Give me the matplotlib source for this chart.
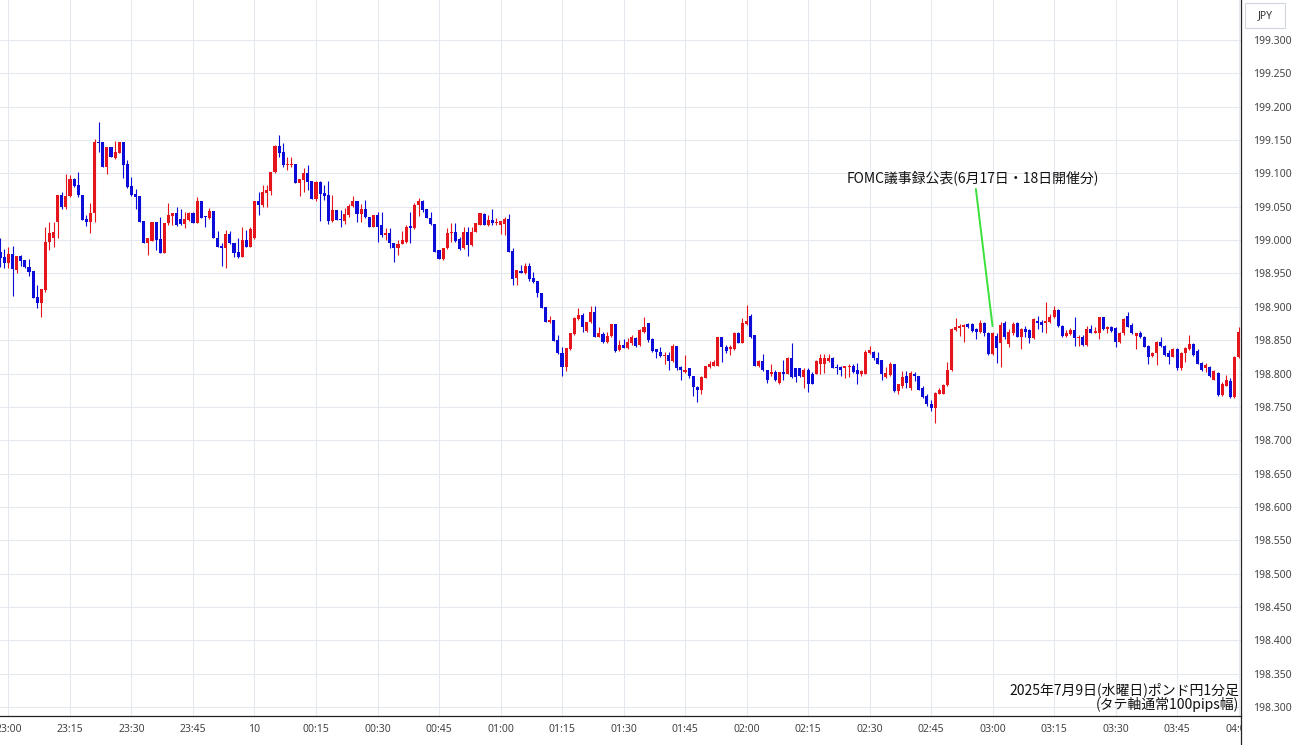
import numpy as np
import matplotlib
matplotlib.use("Agg")
import matplotlib.pyplot as plt
from matplotlib.transforms import Bbox
from matplotlib.lines import Line2D
from matplotlib.patches import Rectangle

# GBP/JPY 1-minute candles, first candle at 22:58 (minutes counted from 23:00)
first_minute = -2

opens = [
    198.982, 198.975, 198.966, 198.979, 198.955, 198.976, 198.970, 198.959, 198.954, 198.914,
    198.905, 198.925, 198.997, 199.003, 199.027, 199.068, 199.049, 199.066, 199.091, 199.082,
    199.067, 199.031, 199.027, 199.040, 199.147, 199.147, 199.109, 199.139, 199.123, 199.130,
    199.147, 199.114, 199.081, 199.069, 199.066, 199.029, 198.996, 198.999, 199.027, 199.001,
    198.981, 199.025, 199.036, 199.040, 199.031, 199.024, 199.030, 199.041, 199.026, 199.059,
    199.036, 199.033, 199.044, 199.003, 198.991, 198.988, 199.009, 198.996, 198.982, 198.975,
    199.000, 198.990, 199.003, 199.059, 199.053, 199.071, 199.074, 199.102, 199.141, 199.132,
    199.112, 199.113, 199.114, 199.086, 199.090, 199.101, 199.088, 199.061, 199.087, 199.071,
    199.068, 199.029, 199.045, 199.031, 199.029, 199.038, 199.051, 199.059, 199.039, 199.046,
    199.034, 199.020, 199.038, 199.023, 199.008, 199.011, 198.996, 198.988, 198.994, 198.997,
    199.021, 199.018, 199.053, 199.059, 199.046, 199.033, 199.024, 198.985, 198.971, 198.988,
    199.010, 199.012, 199.001, 198.988, 199.012, 198.992, 199.012, 199.023, 199.039, 199.023,
    199.030, 199.025, 199.023, 199.024, 199.031, 198.984, 198.943, 198.954, 198.950, 198.961,
    198.943, 198.939, 198.920, 198.899, 198.877, 198.880, 198.850, 198.831, 198.810, 198.837,
    198.859, 198.881, 198.888, 198.863, 198.877, 198.892, 198.855, 198.859, 198.847, 198.856,
    198.874, 198.835, 198.843, 198.838, 198.845, 198.853, 198.843, 198.862, 198.876, 198.851,
    198.836, 198.832, 198.826, 198.828, 198.819, 198.841, 198.810, 198.802, 198.808, 198.797,
    198.780, 198.776, 198.794, 198.810, 198.812, 198.812, 198.854, 198.840, 198.836, 198.836,
    198.861, 198.846, 198.874, 198.886, 198.857, 198.811, 198.819, 198.806, 198.799, 198.802,
    198.786, 198.802, 198.800, 198.823, 198.808, 198.808, 198.795, 198.806, 198.800, 198.800,
    198.815, 198.815, 198.819, 198.823, 198.810, 198.810, 198.808, 198.810, 198.812, 198.805,
    198.800, 198.800, 198.830, 198.832, 198.823, 198.820, 198.795, 198.798, 198.814, 198.774,
    198.781, 198.796, 198.778, 198.800, 198.796, 198.779, 198.766, 198.755, 198.749, 198.770,
    198.770, 198.783, 198.805, 198.865, 198.868, 198.870, 198.874, 198.874, 198.866, 198.862,
    198.876, 198.861, 198.829, 198.856, 198.845, 198.876, 198.844, 198.860, 198.876, 198.855,
    198.866, 198.865, 198.853, 198.879, 198.877, 198.875, 198.877, 198.884, 198.895, 198.871,
    198.856, 198.859, 198.865, 198.853, 198.855, 198.843, 198.866, 198.861, 198.861, 198.884,
    198.866, 198.870, 198.868, 198.847, 198.860, 198.886, 198.873, 198.856, 198.861, 198.855,
    198.841, 198.826, 198.830, 198.847, 198.841, 198.831, 198.825, 198.836, 198.808, 198.830,
    198.836, 198.844, 198.834, 198.816, 198.808, 198.810, 198.791, 198.801, 198.768, 198.782,
    198.789, 198.765, 198.824,
]

highs = [
    199.003, 198.986, 198.989, 198.991, 198.976, 198.978, 198.970, 198.971, 198.954, 198.933,
    198.927, 199.020, 199.027, 199.027, 199.068, 199.072, 199.099, 199.098, 199.093, 199.102,
    199.068, 199.037, 199.055, 199.151, 199.177, 199.147, 199.139, 199.139, 199.149, 199.147,
    199.147, 199.120, 199.095, 199.076, 199.066, 199.029, 199.003, 199.027, 199.027, 199.034,
    199.026, 199.055, 199.040, 199.050, 199.046, 199.042, 199.042, 199.042, 199.064, 199.059,
    199.036, 199.048, 199.044, 199.014, 198.995, 199.015, 199.014, 198.996, 199.003, 199.019,
    199.015, 199.019, 199.059, 199.072, 199.083, 199.083, 199.102, 199.143, 199.158, 199.146,
    199.124, 199.124, 199.114, 199.092, 199.108, 199.112, 199.088, 199.089, 199.089, 199.083,
    199.089, 199.068, 199.045, 199.045, 199.048, 199.054, 199.066, 199.059, 199.054, 199.060,
    199.034, 199.038, 199.042, 199.042, 199.018, 199.018, 198.996, 199.000, 199.014, 199.023,
    199.042, 199.055, 199.063, 199.060, 199.046, 199.042, 199.024, 198.985, 198.988, 199.018,
    199.025, 199.025, 199.004, 199.020, 199.020, 199.020, 199.025, 199.040, 199.040, 199.038,
    199.046, 199.033, 199.029, 199.035, 199.039, 198.988, 198.955, 198.963, 198.966, 198.965,
    198.952, 198.939, 198.920, 198.899, 198.886, 198.880, 198.857, 198.840, 198.838, 198.861,
    198.885, 198.898, 198.890, 198.877, 198.901, 198.901, 198.870, 198.862, 198.862, 198.874,
    198.874, 198.850, 198.851, 198.853, 198.857, 198.855, 198.866, 198.884, 198.876, 198.853,
    198.836, 198.839, 198.832, 198.832, 198.844, 198.841, 198.811, 198.828, 198.809, 198.797,
    198.781, 198.797, 198.812, 198.819, 198.820, 198.855, 198.855, 198.843, 198.843, 198.862,
    198.862, 198.883, 198.902, 198.889, 198.858, 198.820, 198.829, 198.806, 198.815, 198.806,
    198.803, 198.821, 198.824, 198.846, 198.809, 198.809, 198.808, 198.808, 198.802, 198.821,
    198.829, 198.829, 198.829, 198.824, 198.814, 198.812, 198.812, 198.814, 198.815, 198.816,
    198.806, 198.835, 198.841, 198.834, 198.832, 198.821, 198.810, 198.817, 198.815, 198.785,
    198.804, 198.804, 198.804, 198.802, 198.796, 198.781, 198.770, 198.761, 198.772, 198.778,
    198.784, 198.817, 198.868, 198.883, 198.874, 198.874, 198.875, 198.875, 198.868, 198.880,
    198.877, 198.862, 198.862, 198.860, 198.877, 198.879, 198.866, 198.877, 198.877, 198.868,
    198.871, 198.866, 198.883, 198.886, 198.880, 198.907, 198.889, 198.901, 198.896, 198.873,
    198.865, 198.868, 198.884, 198.857, 198.857, 198.871, 198.872, 198.870, 198.885, 198.885,
    198.871, 198.871, 198.869, 198.862, 198.883, 198.892, 198.875, 198.861, 198.864, 198.856,
    198.843, 198.832, 198.849, 198.854, 198.843, 198.835, 198.838, 198.838, 198.832, 198.840,
    198.857, 198.845, 198.836, 198.817, 198.816, 198.811, 198.805, 198.802, 198.787, 198.798,
    198.794, 198.826, 198.869,
]

lows = [
    198.960, 198.958, 198.958, 198.916, 198.951, 198.961, 198.958, 198.946, 198.913, 198.898,
    198.884, 198.922, 198.985, 198.990, 199.003, 199.047, 199.047, 199.064, 199.080, 199.065,
    199.030, 199.021, 199.010, 199.027, 199.132, 199.109, 199.099, 199.125, 199.121, 199.130,
    199.093, 199.078, 199.066, 199.047, 199.027, 198.995, 198.978, 198.999, 198.985, 198.981,
    198.981, 199.023, 199.023, 199.021, 199.023, 199.018, 199.028, 199.026, 199.025, 199.033,
    199.019, 199.031, 199.003, 198.989, 198.961, 198.958, 198.994, 198.975, 198.973, 198.975,
    198.989, 198.990, 199.002, 199.038, 199.049, 199.049, 199.068, 199.100, 199.124, 199.109,
    199.105, 199.110, 199.086, 199.066, 199.072, 199.075, 199.061, 199.059, 199.029, 199.060,
    199.024, 199.027, 199.030, 199.020, 199.024, 199.035, 199.049, 199.027, 199.027, 199.033,
    199.020, 199.020, 198.997, 199.005, 199.000, 198.988, 198.967, 198.978, 198.994, 198.996,
    198.996, 199.016, 199.036, 199.042, 199.033, 199.023, 198.982, 198.971, 198.970, 198.986,
    198.997, 198.997, 198.985, 198.986, 198.976, 198.991, 199.012, 199.023, 199.023, 199.021,
    199.023, 199.023, 199.009, 199.008, 198.982, 198.933, 198.933, 198.950, 198.949, 198.939,
    198.936, 198.915, 198.898, 198.877, 198.876, 198.849, 198.829, 198.796, 198.804, 198.835,
    198.857, 198.880, 198.862, 198.862, 198.876, 198.854, 198.855, 198.846, 198.845, 198.855,
    198.832, 198.834, 198.838, 198.837, 198.843, 198.839, 198.841, 198.861, 198.847, 198.832,
    198.823, 198.825, 198.815, 198.805, 198.817, 198.805, 198.791, 198.801, 198.794, 198.766,
    198.757, 198.769, 198.793, 198.809, 198.811, 198.811, 198.817, 198.830, 198.827, 198.835,
    198.845, 198.845, 198.872, 198.853, 198.811, 198.810, 198.804, 198.786, 198.797, 198.789,
    198.784, 198.790, 198.799, 198.794, 198.787, 198.795, 198.778, 198.772, 198.784, 198.799,
    198.800, 198.801, 198.817, 198.808, 198.800, 198.797, 198.793, 198.795, 198.801, 198.785,
    198.797, 198.799, 198.829, 198.820, 198.815, 198.790, 198.794, 198.796, 198.772, 198.769,
    198.779, 198.779, 198.776, 198.789, 198.776, 198.764, 198.751, 198.744, 198.726, 198.769,
    198.769, 198.781, 198.804, 198.864, 198.856, 198.847, 198.868, 198.862, 198.851, 198.861,
    198.856, 198.827, 198.827, 198.816, 198.810, 198.851, 198.839, 198.857, 198.854, 198.836,
    198.855, 198.846, 198.851, 198.866, 198.862, 198.861, 198.875, 198.883, 198.870, 198.855,
    198.855, 198.857, 198.841, 198.841, 198.841, 198.841, 198.860, 198.860, 198.851, 198.865,
    198.860, 198.862, 198.839, 198.845, 198.858, 198.869, 198.859, 198.836, 198.853, 198.839,
    198.814, 198.824, 198.813, 198.840, 198.826, 198.815, 198.824, 198.806, 198.806, 198.817,
    198.835, 198.826, 198.814, 198.804, 198.802, 198.795, 198.790, 198.766, 198.766, 198.781,
    198.764, 198.764, 198.823,
]

closes = [
    198.973, 198.966, 198.979, 198.956, 198.976, 198.969, 198.959, 198.952, 198.913, 198.905,
    198.927, 198.997, 199.011, 199.012, 199.068, 199.049, 199.066, 199.092, 199.081, 199.067,
    199.030, 199.027, 199.040, 199.147, 199.145, 199.109, 199.139, 199.125, 199.132, 199.147,
    199.112, 199.080, 199.068, 199.064, 199.027, 198.995, 199.003, 199.027, 199.000, 198.981,
    199.025, 199.038, 199.040, 199.023, 199.024, 199.031, 199.041, 199.026, 199.059, 199.033,
    199.034, 199.044, 199.003, 198.989, 198.988, 199.009, 198.995, 198.981, 198.975, 199.000,
    198.990, 199.017, 199.059, 199.053, 199.072, 199.075, 199.102, 199.141, 199.130, 199.112,
    199.114, 199.114, 199.086, 199.092, 199.101, 199.087, 199.061, 199.087, 199.069, 199.066,
    199.029, 199.045, 199.030, 199.030, 199.039, 199.051, 199.059, 199.039, 199.046, 199.034,
    199.020, 199.038, 199.020, 199.008, 199.010, 198.995, 198.988, 198.994, 199.000, 199.020,
    199.018, 199.053, 199.059, 199.045, 199.033, 199.024, 198.982, 198.971, 198.988, 199.011,
    199.012, 198.999, 198.986, 199.012, 198.992, 199.012, 199.025, 199.040, 199.023, 199.030,
    199.025, 199.027, 199.029, 199.031, 198.982, 198.942, 198.955, 198.950, 198.961, 198.941,
    198.937, 198.920, 198.898, 198.877, 198.880, 198.849, 198.830, 198.810, 198.838, 198.860,
    198.883, 198.888, 198.870, 198.877, 198.892, 198.855, 198.860, 198.847, 198.856, 198.874,
    198.834, 198.843, 198.838, 198.847, 198.855, 198.841, 198.865, 198.869, 198.850, 198.834,
    198.832, 198.826, 198.828, 198.819, 198.841, 198.809, 198.805, 198.805, 198.796, 198.780,
    198.776, 198.795, 198.811, 198.814, 198.817, 198.854, 198.839, 198.834, 198.840, 198.861,
    198.846, 198.876, 198.879, 198.855, 198.811, 198.819, 198.805, 198.790, 198.802, 198.790,
    198.802, 198.800, 198.823, 198.795, 198.795, 198.796, 198.806, 198.785, 198.785, 198.819,
    198.823, 198.823, 198.823, 198.809, 198.808, 198.806, 198.811, 198.812, 198.802, 198.800,
    198.804, 198.832, 198.835, 198.823, 198.815, 198.799, 198.801, 198.815, 198.774, 198.784,
    198.795, 198.786, 198.801, 198.796, 198.776, 198.765, 198.755, 198.749, 198.771, 198.776,
    198.783, 198.805, 198.866, 198.869, 198.871, 198.873, 198.870, 198.864, 198.862, 198.876,
    198.861, 198.829, 198.861, 198.838, 198.873, 198.854, 198.862, 198.874, 198.855, 198.866,
    198.862, 198.853, 198.881, 198.875, 198.873, 198.879, 198.885, 198.895, 198.871, 198.856,
    198.860, 198.865, 198.853, 198.855, 198.843, 198.866, 198.861, 198.864, 198.884, 198.866,
    198.870, 198.864, 198.847, 198.861, 198.881, 198.870, 198.860, 198.860, 198.854, 198.840,
    198.824, 198.831, 198.847, 198.841, 198.828, 198.824, 198.836, 198.808, 198.831, 198.838,
    198.844, 198.828, 198.815, 198.806, 198.813, 198.796, 198.804, 198.768, 198.784, 198.790,
    198.765, 198.824, 198.862,
]

tick_minutes = [0, 15, 30, 45, 60, 75, 90, 105, 120, 135, 150, 165, 180,
                195, 210, 225, 240, 255, 270, 285, 300]
tick_labels = ["23:00", "23:15", "23:30", "23:45", "10", "00:15", "00:30",
               "00:45", "01:00", "01:15", "01:30", "01:45", "02:00", "02:15",
               "02:30", "02:45", "03:00", "03:15", "03:30", "03:45", "04:00"]
price_ticks = [198.30, 198.35, 198.40, 198.45, 198.50, 198.55, 198.60, 198.65,
               198.70, 198.75, 198.80, 198.85, 198.90, 198.95, 199.00, 199.05,
               199.10, 199.15, 199.20, 199.25, 199.30]

event_minute = 240
event_price = 198.871
event_text = "FOMC議事録公表(6月17日・18日開催分)"
caption_1 = "2025年7月9日(水曜日)ポンド円1分足"
caption_2 = "(タテ軸通常100pips幅)"

RED = "#e4151d"
BLUE = "#0c0cd8"
JP = ["Noto Sans CJK JP", "DejaVu Sans"]

W, H = 1300, 745
fig = plt.figure(figsize=(W / 100, H / 100), dpi=100)
fig.patch.set_facecolor("white")
ax = fig.add_axes([0, 29 / H, 1241 / W, 716 / H])

o = np.array(opens)
h = np.array(highs)
l = np.array(lows)
c = np.array(closes)
x = np.arange(len(c)) + first_minute
cols = np.where(c >= o, RED, BLUE)

ax.vlines(x, l, h, colors=cols, lw=0.8, zorder=2)
body_low = np.minimum(o, c)
body_h = np.maximum(np.abs(c - o), 0.0015)
ax.bar(x, body_h, bottom=body_low, width=0.74, color=cols, lw=0, zorder=3)

ax.set_xlim(-2.07, 300.6)
ax.set_ylim(198.2865, 199.360)

ax.grid(color="#e4e9ef", lw=0.75, zorder=0)
ax.set_axisbelow(True)

ax.yaxis.tick_right()
ax.set_yticks(price_ticks)
ax.set_yticklabels([f"{v:.3f}" for v in price_ticks])
ax.set_xticks(tick_minutes)
ax.set_xticklabels(tick_labels)
ax.tick_params(axis="y", length=0, pad=9, labelsize=7.5, labelcolor="#444444")
ax.tick_params(axis="x", length=0, pad=6, labelsize=7.5, labelcolor="#444444")
for lbl in ax.get_xticklabels() + ax.get_yticklabels():
    lbl.set_family("Noto Sans")
clip = Bbox.from_extents(0, 0, 1241, H)
for lbl in ax.get_xticklabels():
    lbl.set_clip_on(True)
    lbl.set_clip_box(clip)

for s in ["top", "left"]:
    ax.spines[s].set_visible(False)
ax.spines["bottom"].set_color("#222222")
ax.spines["right"].set_color("#222222")
ax.spines["bottom"].set_linewidth(0.9)
ax.spines["right"].set_linewidth(0.9)
fig.add_artist(Line2D([1241 / W, 1241 / W], [0, 29 / H],
                      transform=fig.transFigure, color="#222222", lw=0.9))

# currency box top right
fig.add_artist(Rectangle((1245 / W, 1 - 28 / H), 40 / W, 25 / H,
                         transform=fig.transFigure, facecolor="white",
                         edgecolor="#cfd6de", lw=0.8))
fig.text(1265 / W, 1 - 15.5 / H, "JPY", ha="center", va="center",
         fontsize=7.5, color="#333333", family="Noto Sans")

ax.annotate(event_text, xy=(event_minute, event_price), xytext=(235.2, 199.094),
            ha="center", va="center", fontsize=10, family=JP, color="#111111",
            arrowprops=dict(arrowstyle="-", color="#3be03b", lw=1.4,
                            shrinkA=1, shrinkB=0, relpos=(0.51, 0.0)),
            zorder=5)

fig.text(1239 / W, 1 - 690 / H, caption_1, ha="right", va="center",
         fontsize=10, family=JP, color="#111111")
fig.text(1239 / W, 1 - 704 / H, caption_2, ha="right", va="center",
         fontsize=10, family=JP, color="#111111")

fig.savefig("out.png", dpi=100, facecolor="white")
